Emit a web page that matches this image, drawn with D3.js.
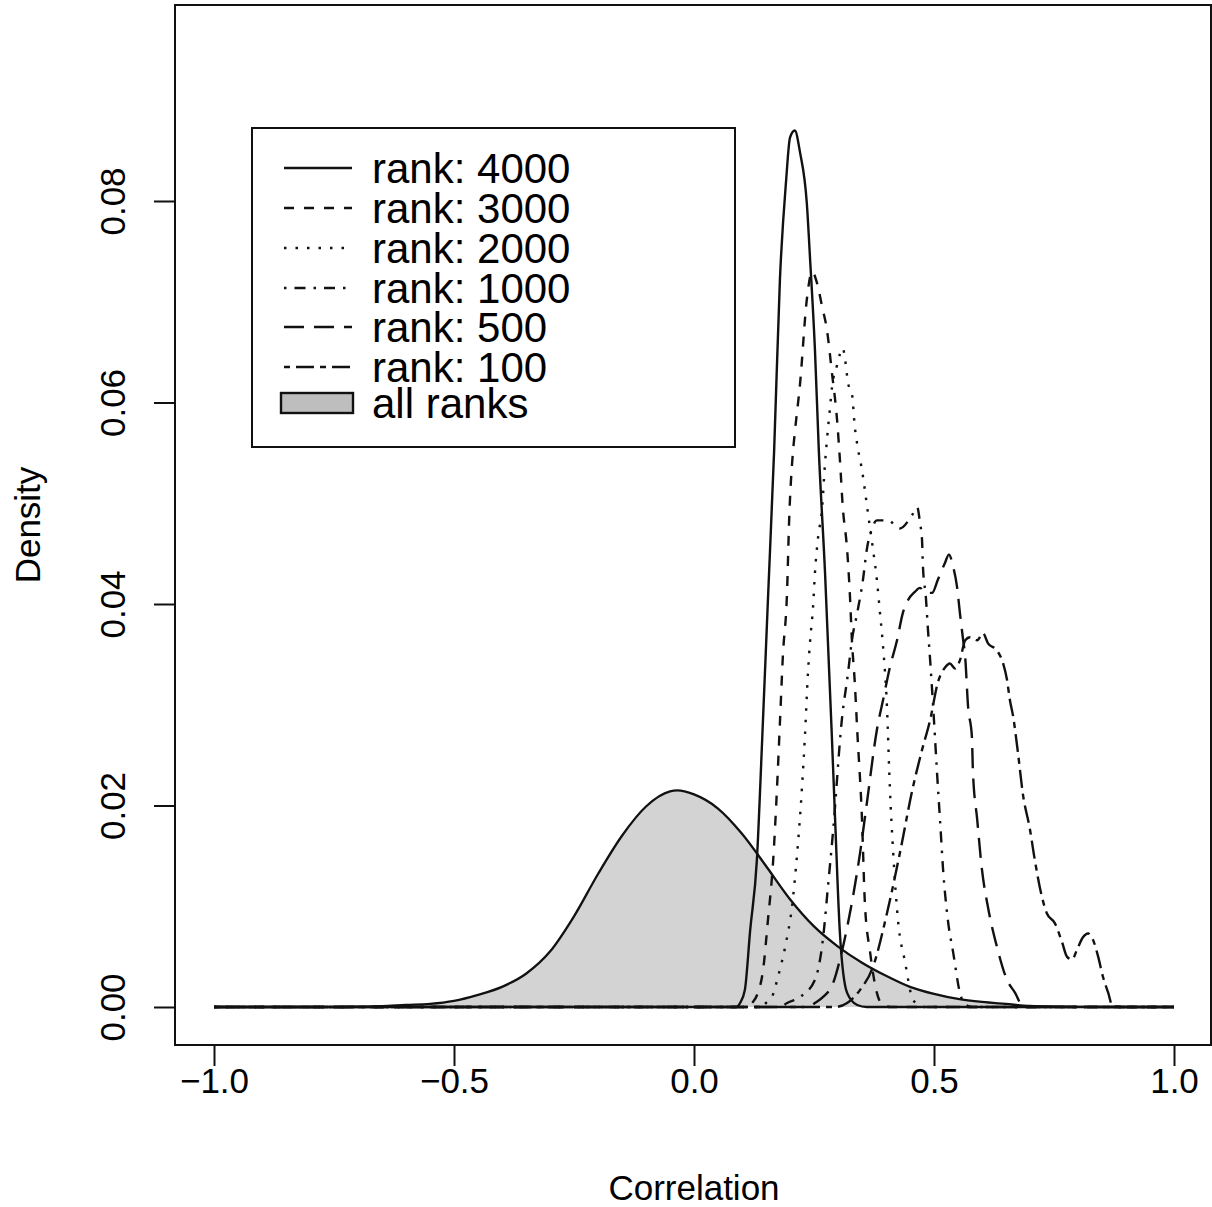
<!DOCTYPE html>
<html>
<head>
<meta charset="utf-8">
<script src="https://cdn.jsdelivr.net/npm/d3@7"></script>
<style>
  html, body { margin: 0; padding: 0; background: #fff; }
  svg { display: block; }
  text { font-family: "Liberation Sans", Arial, Helvetica, sans-serif; fill: #000; }
</style>
</head>
<body>
<svg id="chart" width="1212" height="1207"></svg>
<script>
// ---------------- data ----------------
const xTicks = [-1.0, -0.5, 0.0, 0.5, 1.0];
const xTickLabels = ["\u22121.0", "\u22120.5", "0.0", "0.5", "1.0"];
const yTicks = [0.00, 0.02, 0.04, 0.06, 0.08];
const yTickLabels = ["0.00", "0.02", "0.04", "0.06", "0.08"];
const seriesNames = ["rank: 4000", "rank: 3000", "rank: 2000", "rank: 1000", "rank: 500", "rank: 100"];
const allRanksName = "all ranks";

const allRanks = [[-1,0],[-0.75,0],[-0.70,0.00003],[-0.65,0.00008],[-0.60,0.0002],[-0.55,0.0003],[-0.50,0.0006],
  [-0.45,0.0012],[-0.40,0.0020],[-0.35,0.0033],[-0.30,0.0055],[-0.25,0.0090],[-0.20,0.0132],[-0.15,0.0170],
  [-0.10,0.0199],[-0.05,0.0214],[-0.035,0.0215],[0.00,0.0211],[0.05,0.0197],[0.10,0.0172],[0.15,0.0140],
  [0.20,0.0107],[0.25,0.0080],[0.30,0.0060],[0.35,0.0044],[0.40,0.0031],[0.45,0.0020],[0.50,0.0013],
  [0.55,0.0008],[0.60,0.0005],[0.65,0.0003],[0.70,0.0001],[0.80,0.00002],[0.9,0],[1,0]];

const rank4000 = [[-1,0],[0.0875,0],[0.096,0.0004],[0.106,0.0017],[0.117,0.0076],[0.131,0.0146],[0.142,0.0265],
  [0.154,0.0404],[0.167,0.0553],[0.179,0.0722],[0.192,0.0821],[0.2,0.0863],[0.21,0.0870],[0.221,0.0848],
  [0.235,0.0798],[0.242,0.0741],[0.252,0.0652],[0.26,0.0553],[0.273,0.0431],[0.2875,0.0265],[0.294,0.0186],
  [0.304,0.0073],[0.319,0.0014],[0.34,0.0002],[0.36,0],[1,0]];

const rank3000 = [[-1,0],[0.1125,0],[0.121,0.0004],[0.133,0.0014],[0.144,0.0037],[0.154,0.0086],[0.165,0.0146],
  [0.173,0.0218],[0.179,0.0282],[0.185,0.0347],[0.194,0.0414],[0.198,0.0480],[0.206,0.0550],[0.21,0.0570],
  [0.221,0.0619],[0.235,0.0702],[0.246,0.0730],[0.256,0.0719],[0.267,0.0695],[0.277,0.0672],[0.2875,0.0629],
  [0.298,0.0583],[0.304,0.0543],[0.31,0.0496],[0.319,0.0454],[0.325,0.0407],[0.329,0.0364],[0.335,0.0322],
  [0.34,0.0275],[0.35,0.0186],[0.356,0.0103],[0.367,0.0054],[0.381,0.0014],[0.394,0.0002],[0.41,0],[1,0]];

const rank2000 = [[-1,0],[0.1375,0],[0.15,0.0004],[0.1625,0.0010],[0.175,0.0030],[0.19,0.0060],[0.204,0.0099],
  [0.215,0.0153],[0.225,0.0218],[0.231,0.0268],[0.2375,0.0332],[0.242,0.0364],[0.248,0.0397],[0.252,0.0431],
  [0.258,0.0464],[0.267,0.0496],[0.273,0.0540],[0.277,0.0563],[0.283,0.0593],[0.2875,0.0615],[0.298,0.0637],
  [0.31,0.0654],[0.315,0.0642],[0.321,0.0619],[0.329,0.0609],[0.335,0.0576],[0.342,0.0553],[0.35,0.0533],
  [0.356,0.0513],[0.3625,0.0490],[0.373,0.0454],[0.381,0.0424],[0.3875,0.0391],[0.394,0.0357],[0.402,0.0298],
  [0.408,0.0218],[0.415,0.0153],[0.425,0.0086],[0.44,0.0044],[0.454,0.0010],[0.467,0.0002],[0.48,0],[1,0]];

const rank1000 = [[-1,0],[0.179,0],[0.194,0.0004],[0.221,0.0010],[0.252,0.0027],[0.269,0.0069],[0.279,0.0119],
  [0.29,0.0176],[0.308,0.0285],[0.321,0.0332],[0.329,0.0364],[0.34,0.0391],[0.352,0.0424],[0.36,0.0454],
  [0.371,0.0475],[0.381,0.0483],[0.404,0.0483],[0.429,0.0475],[0.454,0.0488],[0.465,0.0496],[0.471,0.0480],
  [0.475,0.0464],[0.477,0.0437],[0.483,0.0407],[0.4875,0.0374],[0.492,0.0344],[0.496,0.0315],[0.502,0.0268],
  [0.506,0.0235],[0.5125,0.0186],[0.519,0.0136],[0.529,0.0086],[0.54,0.0054],[0.554,0.0014],[0.567,0.0002],
  [0.58,0],[1,0]];

const rank500 = [[-1,0],[0.2375,0],[0.252,0.0004],[0.269,0.0010],[0.29,0.0024],[0.304,0.0047],[0.319,0.0079],
  [0.331,0.0109],[0.346,0.0153],[0.36,0.0202],[0.381,0.0275],[0.394,0.0305],[0.408,0.0337],[0.423,0.0364],
  [0.435,0.0391],[0.446,0.0404],[0.46,0.0412],[0.471,0.0416],[0.481,0.0411],[0.496,0.0411],[0.508,0.0424],
  [0.523,0.0441],[0.531,0.0449],[0.54,0.0437],[0.548,0.0417],[0.554,0.0391],[0.56,0.0367],[0.565,0.0347],
  [0.571,0.0298],[0.579,0.0268],[0.581,0.0235],[0.59,0.0186],[0.6,0.0136],[0.6125,0.0099],[0.631,0.0060],
  [0.652,0.0027],[0.669,0.0014],[0.683,0.0002],[0.7,0],[1,0]];

const rank100 = [[-1,0],[0.294,0],[0.319,0.0004],[0.346,0.0017],[0.373,0.0040],[0.402,0.0093],[0.429,0.0153],
  [0.456,0.0218],[0.475,0.0255],[0.492,0.0285],[0.508,0.0322],[0.523,0.0337],[0.533,0.0341],[0.544,0.0336],
  [0.554,0.0344],[0.565,0.0364],[0.575,0.0367],[0.59,0.0364],[0.602,0.0371],[0.6125,0.0361],[0.631,0.0354],
  [0.644,0.0341],[0.652,0.0325],[0.658,0.0305],[0.665,0.0288],[0.675,0.0252],[0.685,0.0212],[0.7,0.0176],
  [0.71,0.0146],[0.725,0.0109],[0.735,0.0093],[0.752,0.0083],[0.767,0.0064],[0.777,0.0050],[0.7875,0.0047],
  [0.798,0.0057],[0.81,0.0069],[0.821,0.0073],[0.831,0.0067],[0.842,0.0050],[0.852,0.0030],[0.863,0.0014],
  [0.871,0.0002],[0.89,0],[1,0]];

// ---------------- styles ----------------
const lineSeries = [rank4000, rank3000, rank2000, rank1000, rank500, rank100];
const dashes = [null, "10,10", "2.5,9", "2.5,8,11,8", "20,10", "6,6,18,6"];

const svg = d3.select("#chart");
const box = { left: 175, right: 1211, top: 5, bottom: 1045 };
const x = d3.scaleLinear().domain([-1, 1]).range([214, 1174]);
const y = d3.scaleLinear().domain([0, 0.08]).range([1007, 201]);

// filled all-ranks density
const area = d3.area().x(d => x(d[0])).y0(y(0)).y1(d => y(d[1])).curve(d3.curveMonotoneX);
const line = d3.line().x(d => x(d[0])).y(d => y(d[1])).curve(d3.curveMonotoneX);

svg.append("path").datum(allRanks).attr("d", area)
  .attr("fill", "#d3d3d3").attr("stroke", "none");
svg.append("path").datum(allRanks).attr("d", line)
  .attr("fill", "none").attr("stroke", "#111").attr("stroke-width", 2.3);

lineSeries.forEach((s, i) => {
  svg.append("path").datum(s).attr("d", line)
    .attr("fill", "none").attr("stroke", "#111").attr("stroke-width", 2.4)
    .attr("stroke-dasharray", dashes[i]).attr("stroke-linejoin", "round");
});

// box
svg.append("rect").attr("x", box.left).attr("y", box.top)
  .attr("width", box.right - box.left).attr("height", box.bottom - box.top)
  .attr("fill", "none").attr("stroke", "#111").attr("stroke-width", 2);

// axes
const xAxis = d3.axisBottom(x).tickValues(xTicks).tickSize(21).tickPadding(6)
  .tickFormat((d, i) => xTickLabels[i]);
const gx = svg.append("g").attr("transform", `translate(0,${box.bottom})`).call(xAxis);
gx.select(".domain").attr("stroke", "#111").attr("stroke-width", 2).attr("d", `M${x(-1)},0H${x(1)}`);
gx.selectAll(".tick line").attr("stroke", "#111").attr("stroke-width", 2);
gx.selectAll(".tick text").attr("font-size", 35).attr("y", 0).attr("dy", 0)
  .attr("transform", "translate(0,48)")
  .attr("font-family", "'Liberation Sans', Arial, sans-serif").attr("fill", "#000");

const yAxis = d3.axisLeft(y).tickValues(yTicks).tickSize(21)
  .tickFormat((d, i) => yTickLabels[i]);
const gy = svg.append("g").attr("transform", `translate(${box.left},0)`).call(yAxis);
gy.select(".domain").attr("stroke", "#111").attr("stroke-width", 2).attr("d", `M0,${y(0)}V${y(0.08)}`);
gy.selectAll(".tick line").attr("stroke", "#111").attr("stroke-width", 2);
gy.selectAll(".tick text").attr("font-size", 35)
  .attr("x", 0).attr("dy", 0).attr("text-anchor", "middle")
  .attr("transform", "translate(-50,0) rotate(-90)")
  .attr("font-family", "'Liberation Sans', Arial, sans-serif").attr("fill", "#000");

// axis titles
svg.append("text").attr("x", 694).attr("y", 1200).attr("text-anchor", "middle")
  .attr("font-size", 35).text("Correlation");
svg.append("text").attr("transform", "translate(40,525) rotate(-90)").attr("text-anchor", "middle")
  .attr("font-size", 35).text("Density");

// legend
const lg = svg.append("g");
lg.append("rect").attr("x", 252).attr("y", 128).attr("width", 483).attr("height", 319)
  .attr("fill", "#fff").attr("stroke", "#111").attr("stroke-width", 2);
const rowY = [168, 208, 248, 288, 327, 367, 403];
seriesNames.forEach((n, i) => {
  lg.append("line").attr("x1", 284).attr("x2", 352).attr("y1", rowY[i]).attr("y2", rowY[i])
    .attr("stroke", "#111").attr("stroke-width", 2.4).attr("stroke-dasharray", dashes[i]);
  lg.append("text").attr("x", 372).attr("y", rowY[i] + 15).attr("font-size", 42).text(n);
});
lg.append("rect").attr("x", 281).attr("y", 393).attr("width", 72).attr("height", 20)
  .attr("fill", "#bebebe").attr("stroke", "#111").attr("stroke-width", 2.4);
lg.append("text").attr("x", 372).attr("y", rowY[6] + 15).attr("font-size", 42).text(allRanksName);
</script>
</body>
</html>
